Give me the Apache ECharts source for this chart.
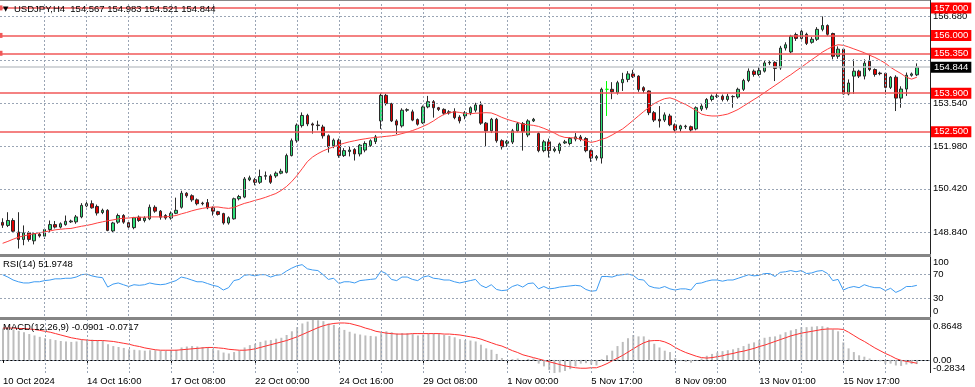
<!DOCTYPE html>
<html><head><meta charset="utf-8">
<script src="https://cdn.jsdelivr.net/npm/echarts@6/dist/echarts.min.js"></script>
<style>html,body{margin:0;padding:0;background:#fff}#c{width:975px;height:387px}</style>
</head><body><div id="c"></div>
<script>
// ---------------- data ----------------
const symbolName = 'USDJPY,H4';
const timeLabels = ['10 Oct 2024','14 Oct 16:00','17 Oct 08:00','22 Oct 00:00','24 Oct 16:00','29 Oct 08:00','1 Nov 00:00','5 Nov 17:00','8 Nov 09:00','13 Nov 01:00','15 Nov 17:00'];
const opens = [
149.20,149.09,149.27,148.85,148.58,148.82,148.53,148.77,148.70,148.94,
149.12,149.03,149.12,149.22,149.22,149.40,149.80,149.88,149.78,149.56,
149.64,148.89,149.21,149.45,149.19,149.01,149.39,149.27,149.33,149.75,
149.61,149.45,149.36,149.53,149.75,150.26,150.17,150.02,149.90,149.92,
149.73,149.59,149.52,149.18,149.33,150.06,150.12,150.75,150.75,150.66,
150.88,150.89,150.89,150.99,151.02,151.63,152.17,152.72,153.09,152.78,
152.74,152.67,152.35,151.99,152.19,151.63,151.78,151.85,151.69,151.83,
152.00,152.14,152.89,153.82,153.52,152.89,152.71,153.28,153.22,152.94,
152.82,153.40,153.59,153.37,153.31,153.22,153.23,153.03,153.07,153.19,
153.28,153.47,152.81,152.53,152.95,152.17,152.08,152.12,152.53,152.79,
152.38,152.89,152.43,151.81,152.13,151.81,151.81,152.09,152.07,152.23,
152.31,152.25,151.81,151.54,151.54,154.04,154.04,153.92,154.28,154.40,
154.60,154.52,154.10,153.98,153.19,152.95,152.92,153.07,152.75,152.60,
152.68,152.68,152.60,153.32,153.37,153.67,153.78,153.79,153.67,153.77,
153.76,154.04,154.36,154.70,154.58,154.70,155.00,155.02,154.82,155.54,
155.40,156.03,155.89,156.04,155.75,155.86,156.22,156.36,156.07,155.24,
155.50,153.87,154.52,154.70,154.52,155.06,154.76,154.63,154.62,154.11,
154.48,153.72,154.05,154.55,154.567];
const highs = [
149.35,149.57,149.35,149.57,149.09,148.88,148.85,148.82,149.00,149.27,
149.25,149.20,149.45,149.30,149.47,149.90,149.98,150.00,149.85,149.70,
149.68,149.22,149.52,149.50,149.25,149.40,149.45,149.42,149.85,149.82,
149.65,149.50,149.60,150.10,150.35,150.30,150.22,150.07,149.95,150.05,
149.78,149.62,149.55,149.42,150.10,150.20,150.85,150.90,150.82,151.12,
151.05,150.95,151.05,151.15,151.70,152.25,152.80,153.20,153.15,152.83,
152.90,152.75,152.40,152.25,152.25,151.90,151.95,151.90,152.05,152.15,
152.22,152.38,153.90,153.88,153.55,152.95,153.35,153.35,153.30,152.98,
153.45,153.80,153.65,153.40,153.35,153.28,153.35,153.10,153.25,153.42,
153.55,153.60,152.85,153.00,153.00,152.22,152.20,152.60,152.85,152.85,
152.95,153.00,152.48,152.20,152.25,151.95,152.10,152.20,152.30,152.45,
152.38,152.30,151.85,151.65,154.10,154.34,154.30,154.35,154.64,154.70,
154.75,154.55,154.15,154.00,153.25,153.43,153.20,153.15,152.80,152.75,
152.75,152.72,153.42,153.50,153.72,153.85,153.90,153.85,153.88,153.82,
154.10,154.42,154.80,154.76,154.85,155.08,155.10,155.06,155.62,155.75,
156.02,156.10,156.20,156.10,155.95,156.30,156.69,156.40,156.10,155.60,
155.55,154.40,155.13,154.75,155.13,155.30,154.80,154.68,154.65,154.52,
154.55,154.15,154.65,154.65,154.983];
const lows = [
149.00,149.03,148.85,148.25,148.37,148.50,148.40,148.65,148.60,148.85,
148.98,148.98,149.08,149.18,149.15,149.35,149.75,149.70,149.45,149.50,
148.88,148.85,149.15,149.15,148.97,148.95,149.22,149.20,149.28,149.55,
149.30,149.30,149.30,149.50,149.70,150.10,149.95,149.82,149.82,149.68,
149.45,149.45,149.12,149.12,149.30,150.00,150.08,150.70,150.55,150.60,
150.75,150.60,150.82,150.95,150.98,151.60,152.10,152.65,152.70,152.43,
152.55,152.25,151.74,151.90,151.55,151.58,151.60,151.45,151.60,151.75,
151.95,152.05,152.60,153.45,152.85,152.41,152.65,153.22,152.88,152.72,
152.78,153.35,153.01,153.25,153.10,153.12,152.95,152.80,152.95,153.10,
153.20,152.75,151.95,152.45,152.10,151.85,151.95,152.05,152.48,151.81,
152.30,152.85,151.75,151.75,151.56,151.75,151.70,152.05,152.00,152.15,
152.15,151.75,151.40,151.45,151.34,153.07,153.68,153.85,153.98,154.30,
154.45,153.95,153.90,153.10,152.85,152.65,152.85,152.70,152.50,152.50,
152.60,152.50,152.55,153.25,153.30,153.60,153.72,153.60,153.60,153.37,
153.70,153.98,154.30,154.50,154.52,154.65,154.92,154.34,154.75,155.45,
155.35,155.80,155.85,155.65,155.70,155.80,156.15,155.98,155.13,155.15,
153.85,153.82,153.87,154.45,154.40,154.70,154.50,154.55,153.85,154.05,
153.25,153.37,153.80,154.50,154.521];
const closes = [
149.10,149.27,148.88,148.58,148.82,148.58,148.79,148.71,148.94,149.12,
149.03,149.15,149.24,149.25,149.40,149.82,149.88,149.73,149.54,149.64,
148.91,149.18,149.45,149.21,149.03,149.37,149.27,149.36,149.75,149.61,
149.39,149.36,149.53,149.64,150.26,150.17,150.02,149.88,149.88,149.73,
149.61,149.49,149.18,149.37,150.06,150.14,150.78,150.82,150.66,150.87,
150.90,150.66,150.99,151.06,151.63,152.17,152.74,153.09,152.78,152.74,
152.72,152.35,151.95,152.19,151.63,151.81,151.83,151.69,152.01,152.07,
152.17,152.31,153.82,153.52,152.89,152.74,153.28,153.30,152.92,152.77,
153.40,153.59,153.37,153.31,153.17,153.18,153.01,152.89,153.19,153.37,
153.47,152.81,152.53,152.95,152.17,151.95,152.14,152.53,152.79,152.50,
152.89,152.95,151.81,152.13,151.81,151.87,152.05,152.13,152.25,152.31,
152.22,151.81,151.54,151.59,154.04,154.04,153.95,154.28,154.40,154.60,
154.50,154.03,154.00,153.19,152.92,152.89,153.11,152.75,152.56,152.71,
152.70,152.56,153.37,153.43,153.67,153.79,153.80,153.67,153.79,153.78,
154.04,154.36,154.70,154.58,154.72,155.00,155.02,154.80,155.54,155.66,
155.97,155.89,156.15,155.71,155.86,156.22,156.36,156.04,155.24,155.50,
153.87,154.27,154.70,154.52,154.99,154.76,154.58,154.61,154.11,154.48,
153.72,154.05,154.55,154.60,154.844];
const maValues = [
148.44,148.51,148.59,148.66,148.71,148.75,148.79,148.82,148.86,148.89,
148.93,148.95,148.97,148.98,149.02,149.06,149.09,149.13,149.18,149.22,
149.26,149.29,149.33,149.35,149.36,149.38,149.39,149.39,149.40,149.40,
149.40,149.40,149.42,149.45,149.51,149.56,149.62,149.67,149.71,149.74,
149.76,149.76,149.73,149.71,149.74,149.82,149.89,149.94,150.00,150.05,
150.11,150.18,150.25,150.36,150.50,150.68,150.90,151.15,151.41,151.58,
151.70,151.80,151.88,151.95,152.02,152.08,152.13,152.17,152.21,152.24,
152.27,152.29,152.31,152.33,152.35,152.38,152.43,152.48,152.54,152.61,
152.69,152.78,152.89,153.02,153.13,153.19,153.22,153.20,153.16,153.15,
153.17,153.18,153.19,153.18,153.11,153.02,152.95,152.89,152.84,152.77,
152.75,152.73,152.69,152.62,152.54,152.45,152.35,152.29,152.28,152.27,
152.22,152.17,152.11,152.15,152.22,152.28,152.38,152.49,152.60,152.75,
152.91,153.07,153.23,153.38,153.52,153.62,153.70,153.73,153.67,153.57,
153.49,153.38,153.27,153.14,153.09,153.07,153.07,153.10,153.14,153.22,
153.31,153.43,153.55,153.67,153.79,153.92,154.05,154.18,154.31,154.45,
154.57,154.71,154.84,154.98,155.12,155.25,155.39,155.50,155.60,155.66,
155.64,155.58,155.51,155.44,155.37,155.28,155.20,155.10,154.99,154.84,
154.72,154.61,154.48,154.41,154.48];
const rsiValues = [
70,66,61,58,56,56,58,58,60,61,
63,63,64,64,66,70,71,68,66,65,
49,54,56,53,50,53,52,53,56,54,
53,54,57,60,66,64,61,58,58,55,
52,50,44,48,60,62,69,70,68,70,
70,66,69,70,76,81,85,87,80,78,
77,70,62,64,55,58,58,56,60,61,
62,63,76,72,62,60,66,66,62,60,
66,68,64,63,61,61,58,56,58,60,
62,52,48,53,45,43,44,50,53,49,
55,56,46,50,46,47,49,50,51,52,
51,45,42,43,67,67,66,69,70,71,
69,62,61,51,48,47,50,46,44,46,
46,44,55,56,59,61,61,59,61,61,
64,67,70,68,69,72,72,67,74,75,
77,75,77,72,73,76,77,72,60,62,
44,48,50,48,53,50,48,48,43,47,
40,44,50,50,51.9748];
const macdValues = [
0.68,0.67,0.66,0.63,0.60,0.56,0.53,0.50,0.47,0.45,
0.43,0.41,0.40,0.39,0.40,0.43,0.44,0.44,0.43,0.41,
0.34,0.30,0.28,0.26,0.23,0.22,0.21,0.20,0.21,0.21,
0.20,0.20,0.21,0.22,0.27,0.29,0.30,0.29,0.28,0.27,
0.24,0.21,0.16,0.14,0.17,0.20,0.27,0.32,0.35,0.39,
0.42,0.43,0.46,0.48,0.54,0.62,0.71,0.79,0.83,0.8648,
0.86,0.84,0.79,0.76,0.69,0.65,0.61,0.57,0.55,0.53,
0.52,0.51,0.58,0.62,0.60,0.57,0.58,0.58,0.56,0.53,
0.55,0.57,0.57,0.56,0.54,0.52,0.49,0.45,0.43,0.42,
0.40,0.33,0.25,0.22,0.13,0.04,0.00,0.02,0.03,0.00,
0.02,0.03,-0.08,-0.14,-0.22,-0.2834,-0.27,-0.24,-0.20,-0.14,
-0.08,-0.07,-0.10,-0.12,0.02,0.10,0.20,0.30,0.39,0.47,
0.54,0.51,0.51,0.44,0.35,0.27,0.20,0.17,0.04,-0.02,
-0.04,-0.06,-0.01,0.03,0.09,0.13,0.16,0.19,0.21,0.23,
0.26,0.30,0.35,0.38,0.43,0.48,0.50,0.51,0.55,0.60,
0.64,0.67,0.71,0.71,0.72,0.73,0.73,0.71,0.66,0.62,
0.38,0.25,0.17,0.10,0.07,0.03,0.00,-0.03,-0.08,-0.08,
-0.12,-0.13,-0.10,-0.09,-0.0901];
const signalValues = [
0.69,0.69,0.69,0.68,0.68,0.67,0.66,0.64,0.62,0.60,
0.57,0.54,0.51,0.48,0.46,0.44,0.43,0.42,0.42,0.42,
0.41,0.40,0.38,0.36,0.34,0.31,0.29,0.26,0.24,0.22,
0.21,0.21,0.21,0.21,0.22,0.23,0.24,0.25,0.26,0.27,
0.27,0.26,0.25,0.23,0.22,0.21,0.21,0.22,0.24,0.27,
0.30,0.33,0.36,0.39,0.42,0.46,0.50,0.55,0.60,0.65,
0.70,0.74,0.77,0.79,0.80,0.80,0.79,0.76,0.73,0.69,
0.66,0.62,0.60,0.58,0.57,0.56,0.56,0.56,0.57,0.57,
0.57,0.57,0.57,0.57,0.56,0.56,0.55,0.54,0.52,0.50,
0.48,0.45,0.41,0.37,0.33,0.30,0.25,0.20,0.16,0.11,
0.08,0.05,0.02,-0.01,-0.04,-0.07,-0.10,-0.13,-0.15,-0.17,
-0.18,-0.18,-0.17,-0.17,-0.13,-0.08,-0.02,0.04,0.10,0.17,
0.24,0.31,0.37,0.41,0.42,0.42,0.39,0.34,0.27,0.21,
0.16,0.12,0.08,0.05,0.04,0.05,0.07,0.09,0.12,0.14,
0.17,0.19,0.22,0.25,0.29,0.32,0.36,0.40,0.44,0.48,
0.52,0.55,0.58,0.60,0.62,0.64,0.66,0.67,0.67,0.67,
0.66,0.60,0.53,0.46,0.40,0.33,0.26,0.20,0.14,0.09,
0.03,-0.01,-0.03,-0.05,-0.0717];
const priceTicks = [148.84,150.42,151.98,153.54,155.11,156.68];
const levelLines = [157.000,156.000,155.350,153.900,152.500];
const selectedLevels = [157.000,156.000,155.350];
const bidPrice = 154.844;
const rsiLevels = [70,30];
const rsiRange = [0,100];
const macdRange = [-0.2834,0.8648];
const macdZero = 0.00;

// ---------------- chart ----------------
const chart = echarts.init(document.getElementById('c'), null, {renderer:'canvas'});
const n = opens.length;
const cats = Array.from({length:n+2},(_,i)=>String(i));
const vGrid = []; for (let i=8;i<n;i+=8) vGrid.push(i);
const FONT = 'Liberation Sans';
const FS = 9.5;
const gridLine = {color:'#9aa5b5', type:[2,2], width:1};
const nulls = new Array(n).fill(null);

const candleData = opens.map((o,i)=>{
  const item = {value:[o, closes[i], lows[i], highs[i]]};
  if (o === closes[i]) item.itemStyle = {borderColor:'#00ff00', borderColor0:'#00ff00', color:'#00ff00', color0:'#00ff00'};
  return item;
});

const allMarks = levelLines.concat([bidPrice]);
const tickMarks = priceTicks.map(v=>{
  const hide = allMarks.some(m=>Math.abs(m-v)<0.3);
  return {yAxis:v, label:{show:!hide}};
});

const xBase = {type:'category', data:cats, boundaryGap:true, axisLine:{show:false}, axisTick:{show:false}, axisLabel:{show:false}, splitLine:{show:false}};
const grids = [
  {left:0, width:930, top:2, height:252},
  {left:0, width:930, top:257, height:59},
  {left:0, width:930, top:320, height:53}
];

const option = {
  animation:false,
  backgroundColor:'#ffffff',
  grid: grids,
  xAxis: [
    Object.assign({}, xBase, {gridIndex:0}),
    Object.assign({}, xBase, {gridIndex:1}),
    Object.assign({}, xBase, {gridIndex:2,
      axisLine:{show:true, lineStyle:{color:'#000', width:1}},
      axisTick:{show:true, alignWithLabel:true, length:3, lineStyle:{color:'#000'},
        interval:(idx)=> idx%16===0 && idx<n},
      axisLabel:{show:true, interval:(idx)=> idx%16===0 && idx<n, align:'left', margin:3,
        formatter:(v,idx)=> timeLabels[idx/16] || '', color:'#000', fontFamily:FONT, fontSize:FS}
    })
  ],
  yAxis: [
    {gridIndex:0, type:'value', min:148.051, max:157.215, show:false, splitLine:{show:false}},
    {gridIndex:1, type:'value', min:rsiRange[0], max:rsiRange[1], show:false, splitLine:{show:false}},
    {gridIndex:2, type:'value', min:macdRange[0], max:macdRange[1], show:false, splitLine:{show:false}}
  ],
  series: [
    {type:'line', xAxisIndex:0, yAxisIndex:0, data:nulls, z:1, silent:true,
     markLine:{silent:true, symbol:'none', animation:false, precision:3, lineStyle:gridLine,
       label:{show:true, position:'end', distance:3, formatter:p=>Number(p.value).toFixed(3), color:'#000', fontFamily:FONT, fontSize:FS},
       data: tickMarks.concat(vGrid.map(i=>({xAxis:i, label:{show:false}})))}},
    {type:'line', xAxisIndex:0, yAxisIndex:0, data:nulls, z:2, silent:true,
     markLine:{silent:true, symbol:'none', animation:false, precision:3, lineStyle:{color:'#c4c8cc', type:'solid', width:1.5},
       label:{show:true, position:'end', distance:1, formatter:p=>Number(p.value).toFixed(3), color:'#fff', backgroundColor:'#000', padding:[1,3,0,3], fontFamily:FONT, fontSize:FS},
       data:[{yAxis:bidPrice}]}},
    {type:'candlestick', name:'USDJPY', xAxisIndex:0, yAxisIndex:0, data:candleData, z:3, barWidth:3,
     itemStyle:{color:'#2fe07a', color0:'#e00000', borderColor:'#2a2a2a', borderColor0:'#2a2a2a', borderWidth:1}},
    {type:'line', name:'MA', xAxisIndex:0, yAxisIndex:0, data:maValues, z:4, symbol:'none', smooth:false,
     lineStyle:{color:'#ff4040', width:1}},
    {type:'line', xAxisIndex:0, yAxisIndex:0, data:nulls, z:5, silent:true,
     markLine:{silent:true, animation:false, symbol:'none', precision:3, lineStyle:{color:'#f05858', type:'solid', width:1.5},
       label:{show:true, position:'end', distance:1, formatter:p=>Number(p.value).toFixed(3), color:'#fff', backgroundColor:'#ff0000', padding:[1,3,0,3], fontFamily:FONT, fontSize:FS},
       data: levelLines.map(v=> selectedLevels.includes(v) ? {yAxis:v, symbol:['emptyCircle','emptyCircle'], symbolSize:5} : {yAxis:v})}},
    {type:'line', xAxisIndex:1, yAxisIndex:1, data:nulls, z:1, silent:true,
     markLine:{silent:true, symbol:'none', animation:false, precision:0, lineStyle:gridLine,
       label:{show:true, position:'end', distance:3, formatter:p=>String(p.value), color:'#000', fontFamily:FONT, fontSize:FS},
       data: rsiLevels.map(v=>({yAxis:v})).concat(vGrid.map(i=>({xAxis:i, label:{show:false}})))}},
    {type:'line', name:'RSI', xAxisIndex:1, yAxisIndex:1, data:rsiValues, z:3, symbol:'none', lineStyle:{color:'#3d9bf2', width:1}},
    {type:'line', xAxisIndex:2, yAxisIndex:2, data:nulls, z:1, silent:true,
     markLine:{silent:true, symbol:'none', animation:false, precision:2, lineStyle:gridLine,
       label:{show:true, position:'end', distance:3, formatter:p=>Number(p.value).toFixed(2), color:'#000', fontFamily:FONT, fontSize:FS},
       data: [{yAxis:macdZero}].concat(vGrid.map(i=>({xAxis:i, label:{show:false}})))}},
    {type:'bar', name:'MACD', xAxisIndex:2, yAxisIndex:2, data:macdValues, z:2, barWidth:2, itemStyle:{color:'#bdbdbd'}},
    {type:'line', name:'Signal', xAxisIndex:2, yAxisIndex:2, data:signalValues, z:3, symbol:'none', lineStyle:{color:'#ff3030', width:1}}
  ]
};
chart.setOption(option);

// ---------- frame, headers, edge labels ----------
const last = n-1;
const rsiTop = chart.convertToPixel({yAxisIndex:1}, rsiRange[1]);
const rsiBot = chart.convertToPixel({yAxisIndex:1}, rsiRange[0]);
const macdTop = chart.convertToPixel({yAxisIndex:2}, macdRange[1]);
const macdBot = chart.convertToPixel({yAxisIndex:2}, macdRange[0]);
const txt = (x,y,s,extra)=>Object.assign({type:'text', x:x, y:y, silent:true, z:100,
  style:{text:s, fill:'#000', font:FS+'px "'+FONT+'"', textVerticalAlign:'middle'}}, extra||{});
chart.setOption({graphic:[
  {type:'line', shape:{x1:0,y1:0.5,x2:930,y2:0.5}, style:{stroke:'#888', lineWidth:1}, silent:true, z:100},
  {type:'line', shape:{x1:930.5,y1:0,x2:930.5,y2:373}, style:{stroke:'#222', lineWidth:1}, silent:true, z:100},
  {type:'rect', shape:{x:0,y:254,width:931,height:3}, style:{fill:'#858585'}, silent:true, z:100},
  {type:'rect', shape:{x:0,y:317,width:931,height:3}, style:{fill:'#858585'}, silent:true, z:100},
  txt(3, 9, '\u25BC', {style:{text:'\u25BC', fill:'#000', font:'7px "DejaVu Sans"', textVerticalAlign:'middle'}}),
  txt(14, 9, symbolName+'  '+opens[last].toFixed(3)+' '+highs[last].toFixed(3)+' '+lows[last].toFixed(3)+' '+closes[last].toFixed(3)),
  txt(3, 264, 'RSI(14) '+rsiValues[last].toFixed(4)),
  txt(3, 327, 'MACD(12,26,9) '+macdValues[last].toFixed(4)+' '+signalValues[last].toFixed(4)),
  txt(933, rsiTop+5, String(rsiRange[1])),
  txt(933, rsiBot-5, String(rsiRange[0])),
  txt(933, macdTop+6, macdRange[1].toFixed(4)),
  txt(933, macdBot-5, macdRange[0].toFixed(4))
]});
</script></body></html>
